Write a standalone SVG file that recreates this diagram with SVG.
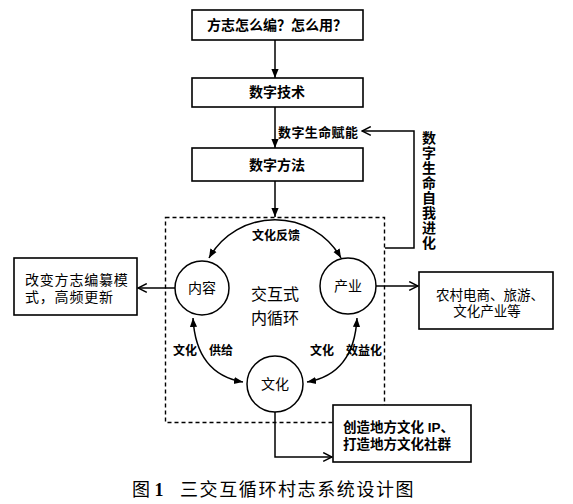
<svg xmlns="http://www.w3.org/2000/svg" width="573" height="504" viewBox="0 0 573 504">
<style>
.box{fill:#fff;stroke:#000;stroke-width:1.6}
.circ{fill:#fff;stroke:#000;stroke-width:1.5}
.ln{fill:none;stroke:#000;stroke-width:1.5}
.t{font-family:"Liberation Sans","Noto Sans CJK SC",sans-serif;fill:#000}
.b{font-weight:bold}
.c{text-anchor:middle}
</style>
<defs>
<marker id="af" viewBox="0 0 10 10" refX="10" refY="5" markerWidth="9" markerHeight="9" markerUnits="userSpaceOnUse" orient="auto-start-reverse"><path d="M0,1 L10,5 L0,9 Z" fill="#000"/></marker>
<marker id="ao" viewBox="0 0 10 10" refX="9" refY="5" markerWidth="11" markerHeight="11" markerUnits="userSpaceOnUse" orient="auto"><path d="M1,1 L9,5 L1,9" fill="none" stroke="#000" stroke-width="1.4"/></marker>
</defs>
<rect width="573" height="504" fill="#fff"/>
<g id="connectors">
<line class="ln" x1="275" y1="40" x2="275" y2="78" marker-end="url(#af)"/>
<line class="ln" x1="275" y1="107" x2="275" y2="148" marker-end="url(#af)"/>
<line class="ln" x1="275" y1="181" x2="275" y2="217" marker-end="url(#af)"/>
<polyline class="ln" points="385,248 414,248 414,131 362,131" marker-end="url(#ao)"/>
<path class="ln" d="M209,258 A76,76 0 0 1 341,258" marker-start="url(#af)" marker-end="url(#af)"/>
<path class="ln" d="M193,318 Q196,374 243,382" marker-start="url(#af)" marker-end="url(#af)"/>
<path class="ln" d="M357,318 Q354,374 307,382" marker-start="url(#af)" marker-end="url(#af)"/>
<line class="ln" x1="175" y1="288" x2="138" y2="288" marker-end="url(#ao)"/>
<line class="ln" x1="376" y1="286" x2="418" y2="286" marker-end="url(#ao)"/>
<polyline class="ln" points="275,412 275,457 332,457" marker-end="url(#ao)"/>
</g>
<g id="loop">
<rect x="165.5" y="217.5" width="219" height="205" fill="none" stroke="#000" stroke-width="1.4" stroke-dasharray="4 3"/>
<text class="t c" x="275" y="300" font-size="16">交互式</text>
<text class="t c" x="275" y="324" font-size="16">内循环</text>
</g>
<g id="box1"><rect class="box" x="192" y="10" width="171" height="30"/><text class="t b c" x="277" y="30" font-size="14">方志怎么编？怎么用？</text></g>
<g id="box2"><rect class="box" x="192" y="78" width="171" height="29"/><text class="t b c" x="277" y="97" font-size="14">数字技术</text></g>
<g id="box3"><rect class="box" x="192" y="148" width="171" height="33"/><text class="t b c" x="277" y="170" font-size="14">数字方法</text></g>
<g id="label-fn"><text class="t b" x="278" y="137" font-size="13" letter-spacing="0.4">数字生命赋能</text></g>
<g id="label-evo"><text class="t b c" x="429" font-size="14"><tspan x="429" y="143">数</tspan><tspan x="429" y="158">字</tspan><tspan x="429" y="173">生</tspan><tspan x="429" y="188">命</tspan><tspan x="429" y="203">自</tspan><tspan x="429" y="218">我</tspan><tspan x="429" y="233">进</tspan><tspan x="429" y="248">化</tspan></text></g>
<g id="label-fk"><text class="t b c" x="276" y="240" font-size="12">文化反馈</text></g>
<g id="label-gj"><text class="t b c" x="185" y="355" font-size="12">文化</text><text class="t b c" x="221" y="355" font-size="12">供给</text></g>
<g id="label-xy"><text class="t b c" x="322" y="355" font-size="12">文化</text><text class="t b c" x="364" y="355" font-size="12">效益化</text></g>
<g id="neirong"><circle class="circ" cx="202" cy="288" r="27"/><text class="t c" x="202" y="293" font-size="14">内容</text></g>
<g id="chanye"><circle class="circ" cx="348" cy="286" r="28"/><text class="t c" x="348" y="291" font-size="14">产业</text></g>
<g id="wenhua"><circle class="circ" cx="275" cy="384" r="28"/><text class="t c" x="275" y="389" font-size="14">文化</text></g>
<g id="leftbox"><rect class="box" x="14" y="258" width="123" height="57"/><text class="t" x="25" y="285" font-size="14" letter-spacing="0.8">改变方志编纂模</text><text class="t" x="25" y="302" font-size="14" letter-spacing="0.8">式，高频更新</text></g>
<g id="rightbox"><rect class="box" x="419" y="272" width="134" height="57"/><text class="t c" x="490" y="300" font-size="13.5">农村电商、旅游、</text><text class="t c" x="487" y="316" font-size="13.5">文化产业等</text></g>
<g id="bottombox"><rect class="box" x="333" y="405" width="138" height="57"/><text class="t b" x="343" y="432" font-size="13.5">创造地方文化 IP、</text><text class="t b" x="343" y="449" font-size="13.5">打造地方文化社群</text></g>
<g id="caption"><text x="132" y="496" font-family="Liberation Serif, Noto Sans CJK SC, serif" font-size="18">图 <tspan font-weight="bold">1</tspan></text><text x="180" y="496" font-family="Liberation Serif, Noto Sans CJK SC, serif" font-size="18" letter-spacing="1.6">三交互循环村志系统设计图</text></g>
</svg>
